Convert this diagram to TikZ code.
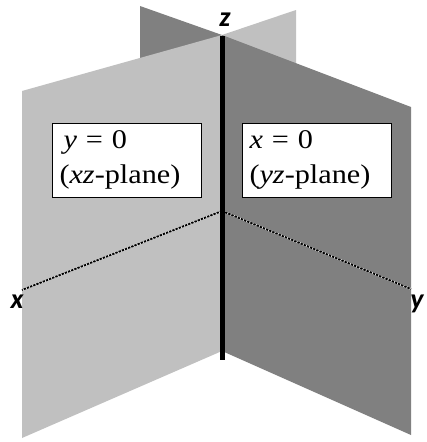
\documentclass[tikz,border=0pt]{standalone}
\usepackage{fontspec}
\setmainfont[FakeStretch=1.12]{Liberation Serif}
\newfontfamily\axisfont{Carlito}
\definecolor{lightg}{HTML}{C0C0C0}
\definecolor{darkg}{HTML}{808080}
\newcommand{\topstrut}{\rule{0pt}{24.5pt}}
\newcommand{\botstrut}{\rule[-14.5pt]{0pt}{14.5pt}}
\tikzset{
  planebox/.style={draw=black, line width=1pt, fill=white, anchor=north west,
    text width=135pt, inner xsep=7pt, inner ysep=0pt, align=left,
    font=\fontsize{27}{35}\selectfont},
  axislabel/.style={font=\axisfont\itshape\bfseries\fontsize{28}{28}\selectfont, inner sep=0pt},
  axisline/.style={draw=white, line width=1.8pt,
    postaction={draw=black, line width=1.8pt, dash pattern=on 2.4pt off 1pt}},
  zaxis/.style={draw=black, line width=5pt}
}
\begin{document}
\begin{tikzpicture}[x=1pt,y=-1pt]
\useasboundingbox (0,0) rectangle (426,442);
\clip (0,0) rectangle (426,442);
\fill[white] (0,0) rectangle (426,442);
% back halves of the planes
\fill[darkg] (140,6) -- (222,35) -- (222,130) -- (140,130) -- cycle;
\fill[lightg] (296,10) -- (222,35) -- (222,130) -- (296,130) -- cycle;
% front halves
\fill[lightg] (222,35) -- (22,91) -- (22,438) -- (222,351) -- cycle;
\fill[darkg] (222,35) -- (411,107) -- (411,435) -- (222,351) -- cycle;
% coordinates
\coordinate (O) at (222,211);
\coordinate (ztop) at (222,36);
\coordinate (zbot) at (222,360);
\coordinate (xend) at (22,290);
\coordinate (yend) at (411,289);
% axes
\draw[axisline] (O) -- (xend);
\draw[axisline] (O) -- (yend);
\draw[zaxis] (ztop) -- (zbot);
% labels
\node[axislabel] (zl) at (225,20) {z};
\node[axislabel] (xl) at (17,302) {x};
\node[axislabel] (yl) at (417,304) {y};
% boxes
\node[planebox] (lbox) at (52,123) {\topstrut\hspace*{4pt}\textit{y} = 0\\(\textit{xz}-plane)\botstrut};
\node[planebox] (rbox) at (242,123) {\topstrut\textit{x} = 0\\(\textit{yz}-plane)\botstrut};
\end{tikzpicture}
\end{document}
